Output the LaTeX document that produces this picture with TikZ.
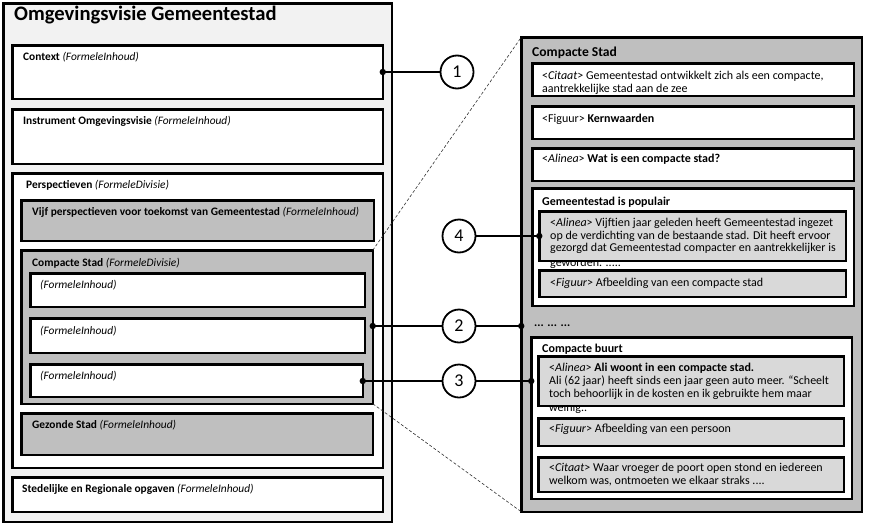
\documentclass[tikz,border=0pt]{standalone}
\usepackage{fontspec}
\setmainfont{Carlito}
\definecolor{panelL}{HTML}{F2F2F2}
\definecolor{grayA}{HTML}{BFBFBF}
\definecolor{grayB}{HTML}{D9D9D9}
\tikzset{
  bx/.style={draw=black, line width=2.5pt, inner sep=0pt, outer sep=0pt, anchor=north west},
  wbox/.style={bx, fill=white},
  gbox/.style={bx, fill=grayA},
  lbox/.style={bx, fill=grayB},
  lt/.style={anchor=base west, inner sep=0pt, font=\fontsize{11.4}{12}\selectfont},
  rt/.style={anchor=base west, inner sep=0pt, font=\fontsize{12}{12}\selectfont},
  circ/.style={circle, draw=black, line width=1.8pt, fill=white, minimum size=33pt, inner sep=0pt, font=\fontsize{18}{18}\selectfont},
  conn/.style={line width=1.5pt},
  zoomline/.style={line width=0.6pt, dash pattern=on 3pt off 2pt, draw=black!80},
}
\newcommand\mybox[6]{%
  \pgfmathsetmacro\bw{#5-#3-2.5}\pgfmathsetmacro\bh{#6-#4-2.5}%
  \node[#2, minimum width=\bw pt, minimum height=\bh pt] (#1) at ({#3+1.25},{#4+1.25}) {};}
\begin{document}
\begin{tikzpicture}[x=1pt,y=-1pt]
\useasboundingbox (0,0) rectangle (869,530);
% ---------- left panel
\mybox{outer}{bx, fill=panelL}{2}{2}{393}{523}
\node[anchor=base west, inner sep=0pt, font=\fontsize{20.6}{22}\selectfont\bfseries] (title) at (14,20) {Omgevingsvisie Gemeentestad};
\mybox{ctx}{wbox}{11}{44}{384}{100}
\node[lt] (tctx) at (23,60) {\textbf{Context} \textit{(FormeleInhoud)}};
\mybox{ins}{wbox}{11}{108}{384}{165}
\node[lt] (tins) at (23,124) {\textbf{Instrument Omgevingsvisie} \textit{(FormeleInhoud)}};
\mybox{per}{wbox}{11}{172}{384}{469}
\node[lt] (tper) at (26,188.3) {\textbf{Perspectieven} \textit{(FormeleDivisie)}};
\mybox{vijf}{gbox}{20}{199}{375}{242}
\node[lt] (tvijf) at (32,215.7) {\textbf{Vijf perspectieven voor toekomst van Gemeentestad} \textit{(FormeleInhoud)}};
\mybox{cs}{gbox}{20}{249}{374}{405}
\node[lt] (tcs) at (32,266.7) {\textbf{Compacte Stad} \textit{(FormeleDivisie)}};
\mybox{fa}{wbox}{29}{272}{366}{308}
\node[lt] (tfa) at (40,288.3) {\textit{(FormeleInhoud)}};
\mybox{fb}{wbox}{29}{317}{366}{354}
\node[lt] (tfb) at (40,334.3) {\textit{(FormeleInhoud)}};
\mybox{fc}{wbox}{29}{363}{364}{398}
\node[lt] (tfc) at (40,379) {\textit{(FormeleInhoud)}};
\mybox{gez}{gbox}{20}{412}{374}{456}
\node[lt] (tgez) at (32,428.3) {\textbf{Gezonde Stad} \textit{(FormeleInhoud)}};
\mybox{sted}{wbox}{11}{476}{384}{513}
\node[lt] (tsted) at (22,492.7) {\textbf{Stedelijke en Regionale opgaven} \textit{(FormeleInhoud)}};
% ---------- right panel
\mybox{rp}{gbox}{520}{36}{863}{513}
\node[anchor=base west, inner sep=0pt, font=\fontsize{13.6}{14}\selectfont\bfseries] (rtitle) at (532,56) {Compacte Stad};
\mybox{cit}{wbox}{531}{62}{855}{97}
\node[rt] (tcit1) at (542,79.3) {<\textit{Citaat}> Gemeentestad ontwikkelt zich als een compacte,};
\node[rt] (tcit2) at (542,92.3) {aantrekkelijke stad aan de zee};
\mybox{fig}{wbox}{531}{105}{855}{140}
\node[rt] (tfig) at (542,122.3) {<Figuur> \textbf{Kernwaarden}};
\mybox{ali}{wbox}{531}{147}{855}{182}
\node[rt] (tali) at (542,162.7) {<\textit{Alinea}> \textbf{Wat is een compacte stad?}};
\mybox{pop}{wbox}{531}{187}{855}{307}
\node[rt] (tpop) at (542,205.7) {\textbf{Gemeentestad is populair}};
\mybox{pal}{lbox}{538}{210}{847}{262}
\node[rt] (tpal1) at (550,226.7) {<\textit{Alinea}> Vijftien jaar geleden heeft Gemeentestad ingezet};
\node[rt] (tpal2) at (550,239) {op de verdichting van de bestaande stad. Dit heeft ervoor};
\node[rt] (tpal3) at (550,251.5) {gezorgd dat Gemeentestad compacter en aantrekkelijker is};
\begin{scope}
\clip (540,262) rectangle (846,267.5);
\node[rt] (tpal4) at (550,266) {geworden. .....};
\end{scope}
\draw[line width=2.5pt] (pal.north west) rectangle (pal.south east);
\mybox{pfig}{lbox}{538}{269}{847}{298}
\node[rt] (tpfig) at (550,286.7) {<\textit{Figuur}> Afbeelding van een compacte stad};
\node[rt, font=\fontsize{12}{12}\selectfont\bfseries] (tdots) at (534,326) {... ... ...};
\mybox{buurt}{wbox}{530}{336}{853}{500}
\node[rt] (tbuurt) at (542,352.3) {\textbf{Compacte buurt}};
\mybox{bal}{lbox}{537}{355}{845}{407}
\node[rt] (tbal1) at (549,371.7) {<\textit{Alinea}> \textbf{Ali woont in een compacte stad.}};
\node[rt] (tbal2) at (549,384.5) {Ali (62 jaar) heeft sinds een jaar geen auto meer. “Scheelt};
\node[rt] (tbal3) at (549,397) {toch behoorlijk in de kosten en ik gebruikte hem maar};
\begin{scope}
\clip (539,407) rectangle (844,413.5);
\node[rt] (tbal4) at (549,411) {weinig..};
\end{scope}
\draw[line width=2.5pt] (bal.north west) rectangle (bal.south east);
\mybox{bfig}{lbox}{537}{417}{845}{447}
\node[rt] (tbfig) at (549,432.3) {<\textit{Figuur}> Afbeelding van een persoon};
\mybox{bcit}{lbox}{537}{456}{845}{493}
\node[rt] (tbcit1) at (549,471.7) {<\textit{Citaat}> Waar vroeger de poort open stond en iedereen};
\node[rt] (tbcit2) at (549,484.3) {welkom was, ontmoeten we elkaar straks ....};
% ---------- zoom lines
\draw[zoomline] (cs.north east) -- (rp.north west);
\draw[zoomline] (cs.south east) -- (rp.south west);
% ---------- callouts
\node[circ] (c1) at (457,72) {1};
\node[circ] (c4) at (459,236) {4};
\node[circ] (c2) at (459,326) {2};
\node[circ] (c3) at (459,381) {3};
\draw[conn] (ctx.east) -- (c1);
\fill (ctx.east) circle (3.2);
\draw[conn] (c4) -- (c4 -| pal.west);
\fill (c4 -| pal.west) circle (3.2);
\draw[conn] (c2 -| cs.east) -- (c2) -- (c2 -| rp.west);
\fill (c2 -| cs.east) circle (3.2);
\fill (c2 -| rp.west) circle (3.2);
\draw[conn] (c3 -| fc.east) -- (c3) -- (c3 -| buurt.west);
\fill (c3 -| fc.east) circle (3.2);
\fill (c3 -| buurt.west) circle (3.2);
\end{tikzpicture}
\end{document}
